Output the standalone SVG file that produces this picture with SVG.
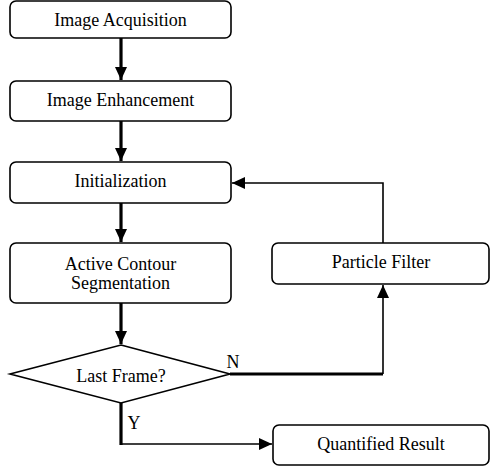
<svg xmlns="http://www.w3.org/2000/svg" width="491" height="467" viewBox="0 0 491 467">
<style>
.box{fill:#fff;stroke:#000;stroke-width:1.6}
text{font-family:'Liberation Serif','Times New Roman','DejaVu Serif',serif;font-size:18px;fill:#000;text-anchor:middle}
.thick{stroke:#000;stroke-width:3.2;fill:none}
.thin{stroke:#000;stroke-width:1.6;fill:none}
</style>
<defs>
<marker id="ah" markerUnits="userSpaceOnUse" markerWidth="14" markerHeight="12" refX="13" refY="6" orient="auto" viewBox="0 0 14 12">
<path d="M0,0 L13,6 L0,12 Z" fill="#000"/>
</marker>
</defs>
<rect width="491" height="467" fill="#fff"/>
<g id="connectors">
<line class="thick" x1="121" y1="38" x2="121" y2="80" marker-end="url(#ah)"/>
<line class="thick" x1="121" y1="121" x2="121" y2="161" marker-end="url(#ah)"/>
<line class="thick" x1="121" y1="203" x2="121" y2="242" marker-end="url(#ah)"/>
<line class="thick" x1="121" y1="303" x2="121" y2="344" marker-end="url(#ah)"/>
<polyline class="thick" points="230,374 383,374"/>
<line class="thin" x1="383" y1="374" x2="383" y2="285" marker-end="url(#ah)"/>
<polyline class="thin" points="383,243 383,183 232,183" marker-end="url(#ah)"/>
<line class="thick" x1="121" y1="403" x2="121" y2="445"/>
<polyline class="thin" points="121,444 272,444" marker-end="url(#ah)"/>
<text x="233" y="368">N</text>
<text x="134" y="429">Y</text>
</g>
<g id="acq"><rect class="box" x="10" y="1" width="221" height="37" rx="6"/><text x="120.5" y="26">Image Acquisition</text></g>
<g id="enh"><rect class="box" x="10" y="81" width="221" height="40" rx="6"/><text x="120.5" y="106">Image Enhancement</text></g>
<g id="init"><rect class="box" x="10" y="162" width="221" height="41" rx="6"/><text x="120.5" y="187">Initialization</text></g>
<g id="seg"><rect class="box" x="10" y="243" width="221" height="60" rx="6"/><text x="120.5" y="270">Active Contour</text><text x="120.5" y="289">Segmentation</text></g>
<g id="dec"><polygon class="box" points="121,345 230,374 121,403 10,374"/><text x="121" y="382">Last Frame?</text></g>
<g id="pf"><rect class="box" x="272" y="243" width="217" height="41" rx="6"/><text x="381" y="268">Particle Filter</text></g>
<g id="qr"><rect class="box" x="273" y="425" width="216" height="40" rx="6"/><text x="381" y="450">Quantified Result</text></g>
</svg>
